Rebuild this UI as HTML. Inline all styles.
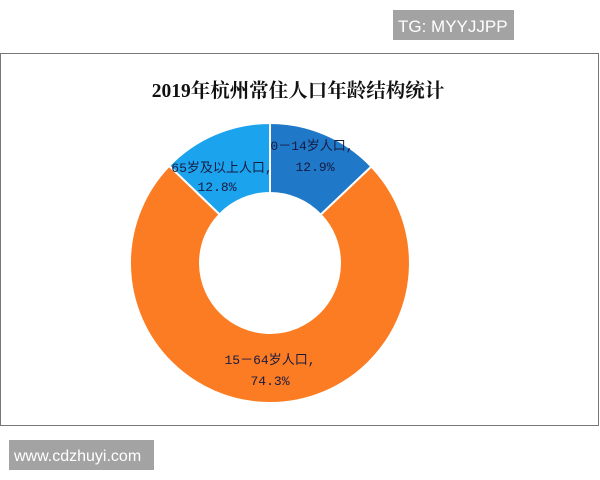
<!DOCTYPE html>
<html><head><meta charset="utf-8"><style>
html,body{margin:0;padding:0;background:#fff;width:600px;height:480px;overflow:hidden}
</style></head><body>
<svg width="600" height="480" viewBox="0 0 600 480" xmlns="http://www.w3.org/2000/svg">
<rect width="600" height="480" fill="#fff"/>
<rect x="0.5" y="53.5" width="598" height="372" fill="#fff" stroke="#777" stroke-width="1"/>
<text x="298" y="97" text-anchor="middle" font-family="'Liberation Serif','Noto Serif CJK SC',serif" font-weight="bold" font-size="19.5" fill="#111">2019年杭州常住人口年龄结构统计</text>
<g stroke="#fff" stroke-width="2">
<path d="M270 123 A140 140 0 0 1 371.4 166.5 L320.7 214.7 A70 70 0 0 0 270 193 Z" fill="#1f78c8"/>
<path d="M371.4 166.5 A140 140 0 1 1 169.2 165.8 L219.6 214.4 A70 70 0 1 0 320.7 214.7 Z" fill="#fb7c22"/>
<path d="M169.2 165.8 A140 140 0 0 1 270 123 L270 193 A70 70 0 0 0 219.6 214.4 Z" fill="#1ba3ee"/>
</g>
<g font-family="'Liberation Mono','Noto Sans CJK SC',monospace" font-size="13" fill="#1a1a40" text-anchor="middle">
<text x="312" y="150">0－14岁人口,</text>
<text x="315" y="171">12.9%</text>
<text x="222" y="172">65岁及以上人口,</text>
<text x="217" y="191">12.8%</text>
<text x="270" y="364">15－64岁人口,</text>
<text x="270" y="385">74.3%</text>
</g>
<rect x="393" y="10" width="121" height="30" fill="#a3a3a3"/>
<text x="398" y="32" font-family="'Liberation Sans',sans-serif" font-size="17" fill="#fff">TG: MYYJJPP</text>
<rect x="9" y="440" width="145" height="30" fill="#a3a3a3"/>
<text x="14" y="461" font-family="'Liberation Sans',sans-serif" font-size="16" fill="#fff">www.cdzhuyi.com</text>
</svg>
</body></html>
